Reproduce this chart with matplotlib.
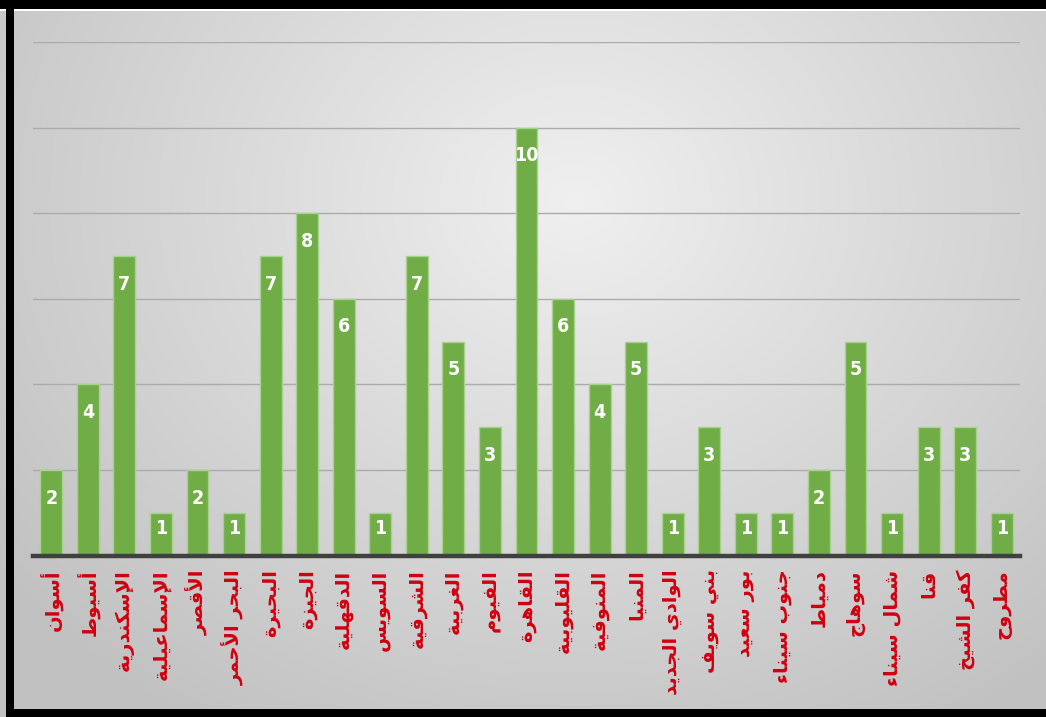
import numpy as np
import matplotlib
matplotlib.use("Agg")
import matplotlib.pyplot as plt
from matplotlib.patches import Rectangle
from matplotlib import font_manager

# Governorates and their counts
governorates = [
    "أسوان", "أسيوط", "الإسكندرية", "الإسماعيلية", "الأقصر", "البحر الأحمر",
    "البحيرة", "الجيزة", "الدقهلية", "السويس", "الشرقية", "الغربية",
    "الفيوم", "القاهرة", "القليوبية", "المنوفية", "المنيا", "الوادي الجديد",
    "بني سويف", "بور سعيد", "جنوب سيناء", "دمياط", "سوهاج", "شمال سيناء",
    "قنا", "كفر الشيخ", "مطروح",
]
counts = [2, 4, 7, 1, 2, 1, 7, 8, 6, 1, 7, 5, 3, 10, 6, 4, 5, 1, 3, 1, 1, 2, 5, 1, 3, 3, 1]

# --- minimal Arabic contextual shaping (matplotlib has no text shaper) ---
_FORMS = {
    # letter: (isolated, final, initial, medial)  None -> form not available
    "ء": (0xFE80, None, None, None),
    "آ": (0xFE81, 0xFE82, None, None),
    "أ": (0xFE83, 0xFE84, None, None),
    "ؤ": (0xFE85, 0xFE86, None, None),
    "إ": (0xFE87, 0xFE88, None, None),
    "ئ": (0xFE89, 0xFE8A, 0xFE8B, 0xFE8C),
    "ا": (0xFE8D, 0xFE8E, None, None),
    "ب": (0xFE8F, 0xFE90, 0xFE91, 0xFE92),
    "ة": (0xFE93, 0xFE94, None, None),
    "ت": (0xFE95, 0xFE96, 0xFE97, 0xFE98),
    "ث": (0xFE99, 0xFE9A, 0xFE9B, 0xFE9C),
    "ج": (0xFE9D, 0xFE9E, 0xFE9F, 0xFEA0),
    "ح": (0xFEA1, 0xFEA2, 0xFEA3, 0xFEA4),
    "خ": (0xFEA5, 0xFEA6, 0xFEA7, 0xFEA8),
    "د": (0xFEA9, 0xFEAA, None, None),
    "ذ": (0xFEAB, 0xFEAC, None, None),
    "ر": (0xFEAD, 0xFEAE, None, None),
    "ز": (0xFEAF, 0xFEB0, None, None),
    "س": (0xFEB1, 0xFEB2, 0xFEB3, 0xFEB4),
    "ش": (0xFEB5, 0xFEB6, 0xFEB7, 0xFEB8),
    "ص": (0xFEB9, 0xFEBA, 0xFEBB, 0xFEBC),
    "ض": (0xFEBD, 0xFEBE, 0xFEBF, 0xFEC0),
    "ط": (0xFEC1, 0xFEC2, 0xFEC3, 0xFEC4),
    "ظ": (0xFEC5, 0xFEC6, 0xFEC7, 0xFEC8),
    "ع": (0xFEC9, 0xFECA, 0xFECB, 0xFECC),
    "غ": (0xFECD, 0xFECE, 0xFECF, 0xFED0),
    "ف": (0xFED1, 0xFED2, 0xFED3, 0xFED4),
    "ق": (0xFED5, 0xFED6, 0xFED7, 0xFED8),
    "ك": (0xFED9, 0xFEDA, 0xFEDB, 0xFEDC),
    "ل": (0xFEDD, 0xFEDE, 0xFEDF, 0xFEE0),
    "م": (0xFEE1, 0xFEE2, 0xFEE3, 0xFEE4),
    "ن": (0xFEE5, 0xFEE6, 0xFEE7, 0xFEE8),
    "ه": (0xFEE9, 0xFEEA, 0xFEEB, 0xFEEC),
    "و": (0xFEED, 0xFEEE, None, None),
    "ى": (0xFEEF, 0xFEF0, None, None),
    "ي": (0xFEF1, 0xFEF2, 0xFEF3, 0xFEF4),
}
_LAM_ALEF = {"آ": (0xFEF5, 0xFEF6), "أ": (0xFEF7, 0xFEF8),
             "إ": (0xFEF9, 0xFEFA), "ا": (0xFEFB, 0xFEFC)}


def _joins_next(ch):
    f = _FORMS.get(ch)
    return f is not None and f[2] is not None


def _joins_prev(ch):
    f = _FORMS.get(ch)
    return f is not None and f[1] is not None


def shape_arabic(text):
    out = []
    i = 0
    n = len(text)
    while i < n:
        ch = text[i]
        prev = text[i - 1] if i > 0 else None
        link_prev = prev is not None and _joins_next(prev) and _joins_prev(ch)
        if ch == "ل" and i + 1 < n and text[i + 1] in _LAM_ALEF:
            iso, fin = _LAM_ALEF[text[i + 1]]
            out.append(chr(fin if link_prev else iso))
            i += 2
            continue
        if ch not in _FORMS:
            out.append(ch)
            i += 1
            continue
        nxt = text[i + 1] if i + 1 < n else None
        link_next = nxt is not None and _joins_next(ch) and _joins_prev(nxt)
        iso, fin, ini, med = _FORMS[ch]
        if link_prev and link_next:
            code = med
        elif link_prev:
            code = fin
        elif link_next:
            code = ini
        else:
            code = iso
        out.append(chr(code))
        i += 1
    # visual (left-to-right) order
    return "".join(reversed(out))


# Condensed bold face for the value labels, if one is available
_names = {f.name for f in font_manager.fontManager.ttflist}
if "Liberation Sans Narrow" in _names:
    value_font = dict(family="Liberation Sans Narrow")
else:
    value_font = dict(family="DejaVu Sans", fontstretch="condensed")

fig = plt.figure(figsize=(10.46, 7.17), dpi=100)

# Soft grey radial background
bg = fig.add_axes([0, 0, 1, 1], zorder=-10)
yy, xx = np.mgrid[0:1:400j, 0:1:600j]
d = np.sqrt(((xx - 0.55) / 0.8) ** 2 + ((yy - 0.28) / 1.0) ** 2)
shade = np.clip(0.94 - 0.21 * d, 0.76, 0.94)
bg.imshow(np.dstack([shade] * 3), extent=[0, 1, 0, 1], aspect="auto", origin="upper")
bg.set_xlim(0, 1)
bg.set_ylim(0, 1)
bg.axis("off")

# Black frame
W, H = 1046, 717
bg.add_patch(Rectangle((0, 1 - 9 / H), 1, 9 / H, color="black", lw=0))
bg.add_patch(Rectangle((0, 1 - 11 / H), 1, 2 / H, color="white", lw=0))
bg.add_patch(Rectangle((6 / W, 0), 8 / W, 1, color="black", lw=0))
bg.add_patch(Rectangle((6 / W, 0), 1, 8 / H, color="black", lw=0))

ax = fig.add_axes([33 / W, 161.5 / H, (1020 - 33) / W, (675 - 161.5) / H])
ax.set_facecolor("none")

x = np.arange(len(counts))
ax.bar(x, counts, width=0.6, color="#70ad47", edgecolor="#a9d18e", linewidth=1.0, zorder=3)

ax.set_xlim(-0.5, len(counts) - 0.5)
ax.set_ylim(0, 12)
ax.set_yticks(np.arange(0, 13, 2))
ax.yaxis.grid(True, color="#ababab", linewidth=1.0, zorder=0)
ax.set_axisbelow(True)
ax.tick_params(axis="y", left=False, labelleft=False)
for side in ("top", "right", "left"):
    ax.spines[side].set_visible(False)
ax.spines["bottom"].set_color("#404040")
ax.spines["bottom"].set_linewidth(3.2)
ax.spines["bottom"].set_zorder(5)

# Value labels inside the top of each bar
for xi, v in zip(x, counts):
    ax.text(xi, v - min(0.66, 0.37 * v), str(v), ha="center", va="center",
            color="white", fontsize=14, fontweight="bold", zorder=6, **value_font)

ax.set_xticks(x)
ax.set_xticklabels([shape_arabic(g) for g in governorates], rotation=90,
                   ha="center", va="top", color="#d0000f", fontsize=14,
                   fontweight="bold", family=["DejaVu Sans"])
ax.tick_params(axis="x", length=0, pad=10)

fig.savefig("out.png", dpi=100)
